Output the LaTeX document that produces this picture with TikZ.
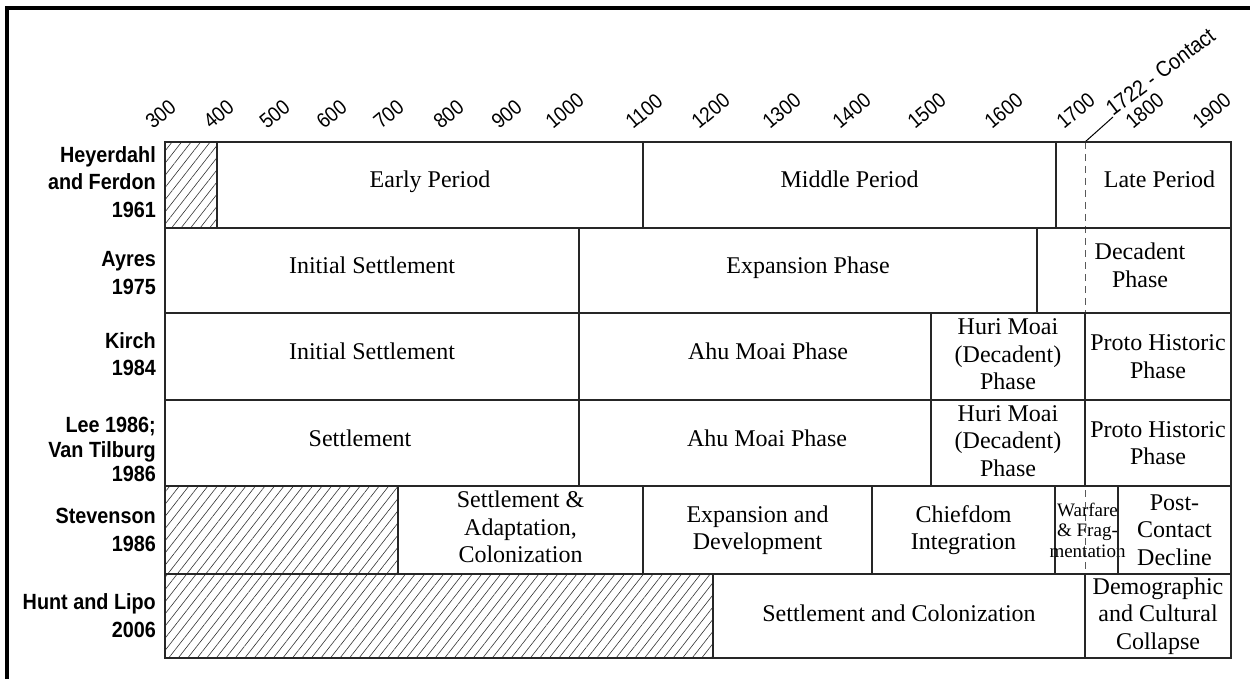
\documentclass[tikz,border=0pt]{standalone}
\usepackage{fontspec}
\setmainfont{Liberation Serif}
\newfontfamily\whofont[FakeStretch=0.9]{Liberation Sans}
\newfontfamily\axisfont[FakeStretch=0.9]{Liberation Sans}
\usetikzlibrary{patterns.meta}
\newcommand{\tcell}[7][]{%
  \draw[rule] (#3,#5) rectangle (#4,#6);
  \node[cell,#1] (#2) at ({(#3+#4)/2},{(#5+#6)/2}) {#7};}
\newcommand{\hcell}[4]{\draw[rule,hatch] (#1,#3) rectangle (#2,#4);}

\begin{document}
\begin{tikzpicture}[
  x=1pt, y=-1pt,
  rule/.style={line width=1.6pt, draw=black!85},
  hatch/.style={pattern={Lines[angle=52, distance=7.5pt, line width=0.6pt]}, pattern color=black!80},
  cell/.style={align=center, inner sep=0pt, font=\fontsize{24}{27.5}\selectfont},
  one/.style={anchor=base, yshift=-3pt},
  who/.style={anchor=east, align=right, inner sep=0pt, font=\whofont\bfseries\fontsize{22}{27.7}\selectfont},
  yrlab/.style={anchor=base west, inner sep=0pt, rotate=40, font=\axisfont\fontsize{21}{21}\selectfont},
  note/.style={anchor=base west, inner sep=0pt, rotate=37, font=\axisfont\fontsize{22}{22}\selectfont},
  contactline/.style={line width=0.8pt, draw=black!65, dash pattern=on 7pt off 5pt}
]
\useasboundingbox (0,0) rectangle (1250,679);
\draw[line width=4pt, line join=miter] (1250,8) -- (7,8) -- (7,679);

% year axis
\foreach \ylab/\px in {300/153, 400/211, 500/267, 600/324, 700/381, 800/441,
    900/499, 1000/553, 1100/633, 1200/699, 1300/770, 1400/840, 1500/915,
    1600/992, 1700/1064, 1800/1133, 1900/1200}
  \node[yrlab] (y\ylab) at (\px,130) {\ylab};

% contact marker
\coordinate (contact) at (1085,142);
\coordinate (contactend) at (1085,658);
\draw[contactline] (contact) -- (contactend);
\node[note] (contactlab) at (1113,117) {1722 - Contact};
\draw[line width=1pt] (contact) -- (contactlab.base west);

% authors
\node[who] (heyerdahl) at (156,182) {Heyerdahl\\and Ferdon\\1961};
\node[who] (ayres) at (156,273) {Ayres\\1975};
\node[who] (kirch) at (156,354) {Kirch\\1984};
\node[who] (lee) at (156,449.5) {Lee 1986;\\[-3.2pt]Van Tilburg\\[-3.2pt]1986};
\node[who] (stevenson) at (156,530) {Stevenson\\1986};
\node[who] (hunt) at (156,615.5) {Hunt and Lipo\\2006};

% Heyerdahl and Ferdon
\hcell{165}{217}{142}{228}
\tcell[one]{early}{217}{643}{142}{228}{Early Period}
\tcell[one]{middle}{643}{1056}{142}{228}{Middle Period}
\tcell[one, xshift=16pt]{late}{1056}{1231}{142}{228}{Late Period}

% Ayres
\tcell[one]{ayinit}{165}{579}{228}{313}{Initial Settlement}
\tcell[one]{ayexp}{579}{1037}{228}{313}{Expansion Phase}
\tcell[xshift=6pt, yshift=5pt]{aydec}{1037}{1231}{228}{313}{Decadent\\Phase}

% Kirch
\tcell[one]{kiinit}{165}{579}{313}{400}{Initial Settlement}
\tcell[one, xshift=13pt]{kiahu}{579}{931}{313}{400}{Ahu Moai Phase}
\tcell[yshift=2pt]{kihuri}{931}{1085}{313}{400}{Huri Moai\\(Decadent)\\Phase}
\tcell{kiproto}{1085}{1231}{313}{400}{Proto Historic\\Phase}

% Lee; Van Tilburg
\tcell[one, xshift=-12pt]{leeset}{165}{579}{400}{486}{Settlement}
\tcell[one, xshift=12pt]{leeahu}{579}{931}{400}{486}{Ahu Moai Phase}
\tcell[yshift=2pt]{leehuri}{931}{1085}{400}{486}{Huri Moai\\(Decadent)\\Phase}
\tcell{leeproto}{1085}{1231}{400}{486}{Proto Historic\\Phase}

% Stevenson
\hcell{165}{398}{486}{574}
\tcell[yshift=3pt]{stset}{398}{643}{486}{574}{Settlement \&\\Adaptation,\\Colonization}
\tcell{stexp}{643}{872}{486}{574}{Expansion and\\Development}
\tcell{stchief}{872}{1055}{486}{574}{Chiefdom\\Integration}
\tcell[font=\fontsize{19}{20.5}\selectfont, xshift=1pt]{stwar}{1055}{1118}{486}{574}{Warfare\\\& Frag-\\mentation}
\tcell{stpost}{1118}{1231}{486}{574}{Post-\\Contact\\Decline}

% Hunt and Lipo
\hcell{165}{713}{574}{658}
\tcell[one, yshift=-2.5pt]{hlset}{713}{1085}{574}{658}{Settlement and Colonization}
\tcell{hldemo}{1085}{1231}{574}{658}{Demographic\\and Cultural\\Collapse}
\end{tikzpicture}
\end{document}
